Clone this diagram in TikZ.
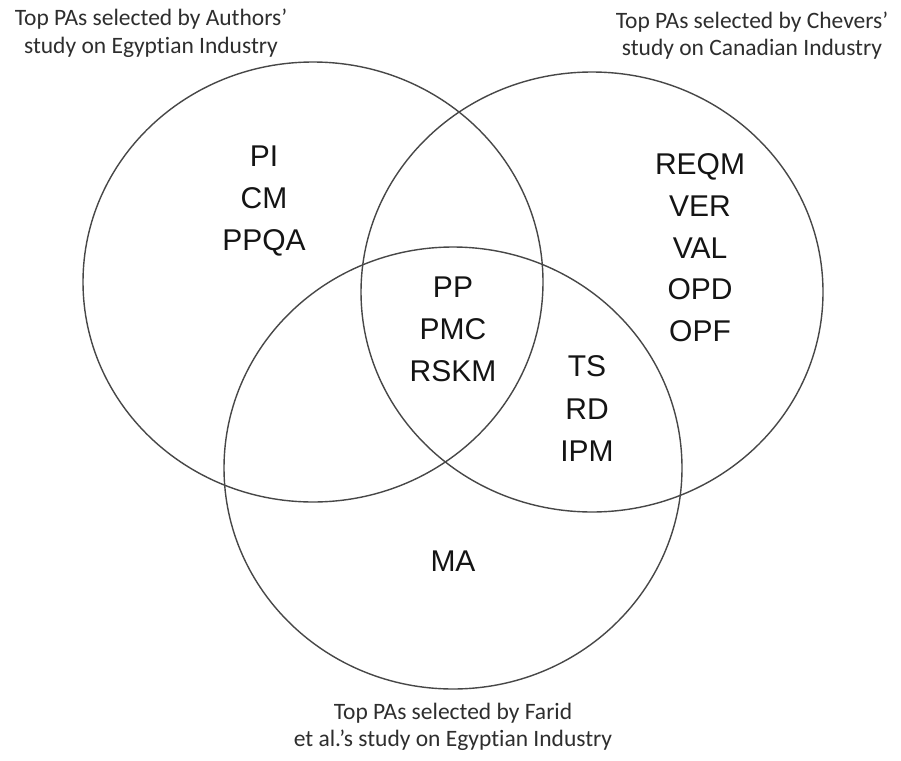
\documentclass[tikz,border=0pt]{standalone}
\usepackage{fontspec}
\setmainfont{Liberation Sans}
\newfontfamily\titlefont[Ligatures={NoCommon}]{Carlito}
\begin{document}
\begin{tikzpicture}[x=1pt,y=-1pt,
  setcirc/.style={draw=black!72, line width=1.4pt},
  lbl/.style={anchor=base, inner sep=0pt, text=black!92, font=\fontsize{30}{36}\selectfont},
  ttl/.style={anchor=base, inner sep=0pt, text=black!82, font=\titlefont\fontsize{23.5}{28}\selectfont}]
\useasboundingbox (0,0) rectangle (901,760);
\fill[white] (0,0) rectangle (901,760);
% sets
\draw[setcirc] (313,282) ellipse [x radius=230pt, y radius=220pt];
\draw[setcirc] (592,292) ellipse [x radius=231pt, y radius=220pt];
\draw[setcirc] (453,468) ellipse [x radius=229pt, y radius=221pt];
% titles
\node[ttl] (t1a) at (151,26) {Top PAs selected by Authors’};
\node[ttl] (t1b) at (151,53) {study on Egyptian Industry};
\node[ttl] (t2a) at (752,29) {Top PAs selected by Chevers’};
\node[ttl] (t2b) at (752,56) {study on Canadian Industry};
\node[ttl] (t3a) at (453,719) {Top PAs selected by Farid};
\node[ttl] (t3b) at (453,746) {et al.’s study on Egyptian Industry};
% left only
\node[lbl] (pi) at (264,166) {PI};
\node[lbl] (cm) at (264,208) {CM};
\node[lbl] (ppqa) at (264,250) {PPQA};
% right only
\node[lbl] (reqm) at (700,174) {REQM};
\node[lbl] (ver) at (700,216) {VER};
\node[lbl] (val) at (700,258) {VAL};
\node[lbl] (opd) at (700,299) {OPD};
\node[lbl] (opf) at (700,341) {OPF};
% centre
\node[lbl] (pp) at (453,297) {PP};
\node[lbl] (pmc) at (453,339) {PMC};
\node[lbl] (rskm) at (453,381) {RSKM};
% right-bottom
\node[lbl] (ts) at (587,376) {TS};
\node[lbl] (rd) at (587,419) {RD};
\node[lbl] (ipm) at (587,461) {IPM};
% bottom only
\node[lbl] (ma) at (453,571) {MA};
\end{tikzpicture}
\end{document}
